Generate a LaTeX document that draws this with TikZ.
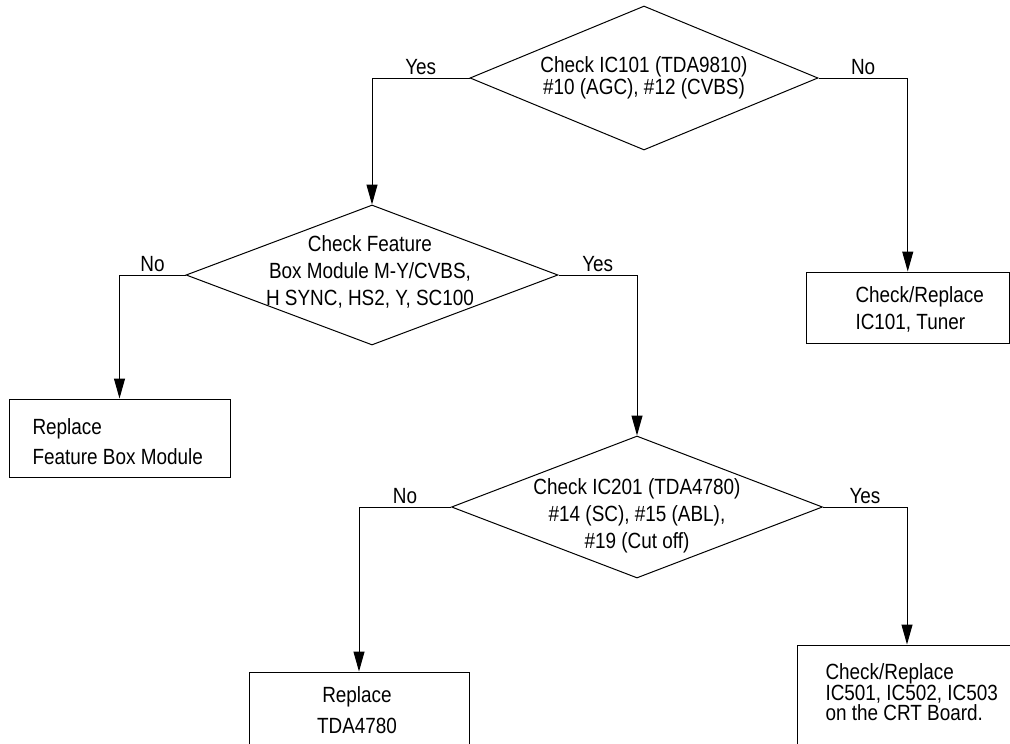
\documentclass[tikz,border=0pt]{standalone}
\usepackage{fontspec}
\setmainfont{Liberation Sans}[FakeStretch=0.86]
\usetikzlibrary{shapes.geometric,arrows.meta}

\begin{document}
\begin{tikzpicture}[x=1pt,y=-1pt,line width=1pt,
  font=\fontsize{22}{27}\selectfont,
  decision/.style={draw,diamond,inner sep=0pt},
  block/.style={draw,rectangle,inner sep=0pt},
  txt/.style={align=center,inner sep=0pt},
  ltxt/.style={align=left,anchor=west,inner sep=0pt},
  lbl/.style={above,inner sep=3pt},
  arrow/.style={-{Triangle[length=20pt,width=11pt]}}]
  \useasboundingbox (0,0) rectangle (1010,744);
  % decisions
  \node[decision,minimum width=348pt,minimum height=144pt] (ic101) at (644,78) {};
  \node[txt,font=\fontsize{22}{22}\selectfont] (ic101t) at (644,78)
    {Check IC101 (TDA9810)\\\#10 (AGC), \#12 (CVBS)};
  \node[decision,minimum width=372pt,minimum height=140pt] (feat) at (372,275) {};
  \node[txt] (featt) at (370,272) {Check Feature\\Box Module M-Y/CVBS,\\H SYNC, HS2, Y, SC100};
  \node[decision,minimum width=371pt,minimum height=142pt] (ic201) at (637,507) {};
  \node[txt] (ic201t) at (637,516) {Check IC201 (TDA4780)\\\#14 (SC), \#15 (ABL),\\\#19 (Cut off)};
  % results
  \node[block,minimum width=203.5pt,minimum height=71pt] (tuner) at (907.75,307.5) {};
  \node[ltxt] (tunert) at (855,309.5) {Check/Replace\\IC101, Tuner};
  \node[block,minimum width=221pt,minimum height=78pt] (fbox) at (119.5,438) {};
  \node[ltxt,font=\fontsize{22}{30}\selectfont] (fboxt) at (32,442) {Replace\\Feature Box Module};
  \node[block,minimum width=220pt,minimum height=78pt] (tda) at (359,711) {};
  \node[txt,font=\fontsize{22}{31}\selectfont] (tdat) at (357,710.5) {Replace\\TDA4780};
  \node[block,minimum width=220pt,minimum height=105pt] (crt) at (907,697.5) {};
  \node[ltxt,font=\fontsize{22}{19.5}\selectfont] (crtt) at (825,692)
    {Check/Replace\\IC501, IC502, IC503\\on the CRT Board.};
  % connectors
  \draw[arrow] (ic101.west) -| node[lbl,pos=0.25] {Yes} (feat.north);
  \draw[arrow] (ic101.east) -| node[lbl,pos=0.25] {No} (tuner.north);
  \draw[arrow] (feat.west) -| node[lbl,pos=0.25] {No} (fbox.north);
  \draw[arrow] (feat.east) -| node[lbl,pos=0.25] {Yes} (ic201.north);
  \draw[arrow] (ic201.west) -| node[lbl,pos=0.25] {No} (tda.north);
  \draw[arrow] (ic201.east) -| node[lbl,pos=0.25] {Yes} (crt.north);
\end{tikzpicture}
\end{document}
